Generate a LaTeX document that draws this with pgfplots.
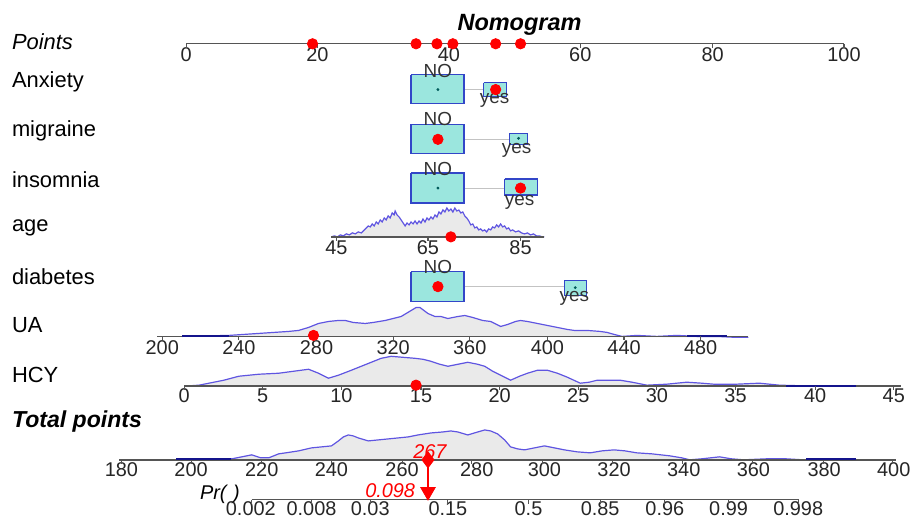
\documentclass[border=0pt]{standalone}
\usepackage{pgfplots}
\pgfplotsset{compat=1.18}
\usepackage{fontspec}
\setmainfont{Liberation Sans}
\definecolor{boxfill}{RGB}{155,230,222}
\definecolor{boxdraw}{RGB}{50,70,200}
\definecolor{densline}{RGB}{95,85,225}
\definecolor{densdark}{RGB}{20,20,140}
\definecolor{densfill}{RGB}{234,234,234}
\definecolor{axgray}{RGB}{85,85,85}
\definecolor{conngray}{RGB}{195,195,195}
\definecolor{ctr}{RGB}{0,90,90}
\tikzset{
  lbl/.style={anchor=west, font=\fontsize{11}{13}\selectfont},
  tl/.style={anchor=center, font=\fontsize{10}{12}\selectfont, text=black!85},
  sm/.style={anchor=center, font=\fontsize{9.5}{11}\selectfont, text=black!80},
}
\pgfplotsset{
  dens/.style={draw=densline, line width=0.6pt, fill=densfill},
  axl/.style={draw=axgray, line width=0.7pt},
  tk/.style={only marks, mark=|, mark size=1pt, mark options={draw=axgray, line width=0.6pt}},
  bx/.style={draw=boxdraw, fill=boxfill, line width=0.7pt},
  rd/.style={only marks, mark=*, mark size=2.6pt, mark options={draw=red, fill=red}},
  cd/.style={only marks, mark=*, mark size=0.5pt, mark options={draw=ctr, fill=ctr}},
}
\begin{document}
\begin{tikzpicture}
\begin{axis}[width=458.5pt, height=258.5pt, scale only axis,
  xmin=0, xmax=917, ymin=0, ymax=517, y dir=reverse,
  axis lines=none, clip=false]
% invisible frame to fix the picture size
\addplot[draw=none, forget plot] coordinates {(0,0)(917,0)(917,517)(0,517)};
% ---------- densities ----------
% age
\addplot[dens] coordinates {(333,238)(336,237)(339,238)(342,236)(345,237)(348,235)(351,236)(354,234)(357,235)(360,233)(363,234)(366,231)(368,229)(370,227)(372,228)(374,225)(376,227)(378,223)(380,225)(382,221)(384,223)(386,219)(388,221)(390,217)(392,219)(394,214)(396,216)(397,212)(399,216)(401,218)(403,221)(405,224)(407,227)(409,224)(411,226)(413,223)(415,225)(417,222)(419,225)(421,222)(423,224)(425,220)(427,223)(429,219)(431,221)(433,218)(435,220)(437,216)(439,218)(441,213)(443,215)(445,211)(447,213)(449,209)(451,212)(453,210)(455,213)(457,209)(459,212)(461,211)(463,214)(465,213)(467,217)(469,219)(471,222)(473,226)(475,225)(477,229)(479,228)(481,231)(483,230)(485,232)(487,231)(489,233)(491,230)(493,231)(495,228)(497,229)(499,226)(501,228)(503,225)(505,228)(507,227)(509,230)(511,229)(513,232)(515,231)(518,233)(521,232)(524,234)(527,235)(530,234)(533,236)(536,235)(539,237)(542,237)(545,238)(547,238)};
% UA
\addplot[dens] coordinates {(183,338)(230,337)(260,335)(290,333)(300,332)(310,329)(320,325)(330,323)(340,322)(347,322)(355,324)(367,325)(375,324)(387,322)(395,320)(403,318)(408,315)(413,312)(418,309)(422,309)(426,312)(430,315)(437,318)(443,318)(450,320)(460,318)(467,317)(475,319)(485,322)(493,323)(503,328)(510,326)(518,323)(523,322)(530,323)(540,325)(550,327)(560,329)(570,331)(577,332)(590,332)(603,333)(610,334)(617,336)(625,338)(640,337)(660,338)(680,337)(700,338)(720,338)(740,339)(752,339)};
% HCY
\addplot[dens] coordinates {(185,388)(200,387)(210,385)(225,382)(240,378)(260,376)(280,375)(295,373)(310,371)(320,375)(330,380)(340,377)(353,372)(368,366)(383,360)(393,358)(405,359)(417,360)(425,361)(433,363)(442,366)(450,368)(460,366)(470,364)(480,366)(487,368)(495,373)(505,378)(513,382)(522,378)(530,375)(540,372)(550,372)(560,375)(570,379)(583,385)(592,384)(600,382)(610,382)(623,382)(635,384)(650,387)(670,386)(690,384)(705,385)(717,386)(740,386)(763,385)(783,387)(820,388)(860,388)};
% Total points
\addplot[dens] coordinates {(177,462)(233,461)(243,459)(253,457)(262,460)(270,460)(280,456)(287,455)(300,453)(313,450)(323,449)(333,448)(340,443)(345,439)(350,437)(355,438)(360,440)(370,443)(380,442)(390,441)(400,440)(410,439)(420,437)(433,435)(445,434)(453,433)(460,434)(470,437)(480,434)(487,432)(493,433)(500,436)(507,442)(513,449)(520,451)(527,452)(537,450)(547,448)(557,450)(567,452)(580,454)(593,455)(605,453)(617,452)(628,453)(640,455)(655,456)(673,458)(685,460)(693,462)(705,461)(723,459)(735,461)(747,462)(770,461)(790,461)(807,462)(860,462)};
% ---------- axis lines ----------
\addplot[axl] coordinates {(187,44)(848,44)};
\addplot[axl] coordinates {(333,238)(547,238)};
\addplot[axl] coordinates {(158,338)(752,338)};
\addplot[axl] coordinates {(185,388)(905,388)};
\addplot[axl] coordinates {(120,462)(900,462)};
\addplot[axl] coordinates {(253,502)(803,502)};
% dark baseline parts of densities
\addplot[draw=densdark, line width=1pt] coordinates {(183,337.5)(230,337.5)};
\addplot[draw=densdark, line width=1pt] coordinates {(177,461.5)(232,461.5)};
\addplot[draw=densdark, line width=1pt] coordinates {(690,337.5)(730,337.5)};
\addplot[draw=densdark, line width=1pt] coordinates {(790,387.5)(860,387.5)};
\addplot[draw=densdark, line width=1pt] coordinates {(810,461.5)(860,461.5)};
% ---------- ticks ----------
\addplot[tk] coordinates {(187,46)(319,46)(451,46)(583,46)(716,46)(848,46)};
\addplot[tk] coordinates {(338,240)(430,240)(523,240)};
\addplot[tk] coordinates {(163,340)(240,340)(318,340)(395,340)(472,340)(550,340)(627,340)(704,340)};
\addplot[tk] coordinates {(185,390)(264,390)(343,390)(423,390)(502,390)(581,390)(660,390)(739,390)(819,390)(898,390)};
\addplot[tk] coordinates {(122,464)(192,464)(263,464)(333,464)(404,464)(474,464)(545,464)(615,464)(686,464)(756,464)(827,464)(897,464)};
\addplot[tk] coordinates {(253,504)(313,504)(372,504)(450,504)(531,504)(603,504)(668,504)(732,504)(802,504)};
% ---------- boxes and connectors ----------
\addplot[draw=conngray, line width=0.6pt] coordinates {(466,90)(486,90)};
\addplot[draw=conngray, line width=0.6pt] coordinates {(466,140)(512,140)};
\addplot[draw=conngray, line width=0.6pt] coordinates {(466,189)(507,189)};
\addplot[draw=conngray, line width=0.6pt] coordinates {(466,288)(567,288)};
\addplot[bx] coordinates {(413,75)(466,75)(466,104)(413,104)(413,75)};
\addplot[bx] coordinates {(486,83)(509,83)(509,97)(486,97)(486,83)};
\addplot[bx] coordinates {(413,125)(466,125)(466,154)(413,154)(413,125)};
\addplot[bx] coordinates {(512,134)(530,134)(530,145)(512,145)(512,134)};
\addplot[bx] coordinates {(413,174)(466,174)(466,204)(413,204)(413,174)};
\addplot[bx] coordinates {(507,180)(540,180)(540,196)(507,196)(507,180)};
\addplot[bx] coordinates {(413,273)(466,273)(466,303)(413,303)(413,273)};
\addplot[bx] coordinates {(567,282)(589,282)(589,297)(567,297)(567,282)};
\addplot[cd] coordinates {(440,90)(521,139)(440,189)(578,289)};
% ---------- red markers ----------
\addplot[rd] coordinates {(314,44)(418,44)(439,44)(455,44)(498,44)(523,44)};
\addplot[rd] coordinates {(498,90)(440,140)(523,189)(453,238)(440,288)(315,337)(418,387)};
\addplot[draw=red, line width=0.8pt] coordinates {(430,462)(430,492)};
\addplot[only marks, mark=diamond*, mark size=4pt, mark options={draw=red, fill=red}] coordinates {(430,462)};
\addplot[only marks, mark=triangle*, mark size=4.2pt, mark options={draw=red, fill=red, rotate=180}] coordinates {(430,494)};
% ---------- text ----------
\node[anchor=center, font=\fontsize{11.8}{13}\selectfont\bfseries\itshape] at (axis cs:522,25) {Nomogram};
\node[lbl, font=\fontsize{11}{13}\selectfont\itshape] at (axis cs:5,42) {Points};
\node[lbl] at (axis cs:5,82) {Anxiety};
\node[lbl] at (axis cs:5,131) {migraine};
\node[lbl] at (axis cs:5,181) {insomnia};
\node[lbl] at (axis cs:5,229) {age};
\node[lbl] at (axis cs:5,278) {diabetes};
\node[lbl] at (axis cs:5,327) {UA};
\node[lbl] at (axis cs:5,377) {HCY};
\node[lbl, font=\fontsize{11.6}{13}\selectfont\bfseries\itshape] at (axis cs:5,424) {Total points};
\node[anchor=center, font=\fontsize{10}{12}\selectfont\itshape] at (axis cs:221,497) {Pr(\,\,)};
% points labels
\node[tl] at (axis cs:187,55) {0};
\node[tl] at (axis cs:319,55) {20};
\node[tl] at (axis cs:451,55) {40};
\node[tl] at (axis cs:583,55) {60};
\node[tl] at (axis cs:716,55) {80};
\node[tl] at (axis cs:848,55) {100};
% NO / yes
\node[sm] at (axis cs:440,71) {NO};
\node[sm] at (axis cs:497,101) {yes};
\node[sm] at (axis cs:440,120) {NO};
\node[sm] at (axis cs:519,151) {yes};
\node[sm] at (axis cs:440,170) {NO};
\node[sm] at (axis cs:522,203) {yes};
\node[sm] at (axis cs:440,268) {NO};
\node[sm] at (axis cs:577,300) {yes};
% age labels
\node[tl] at (axis cs:338,249) {45};
\node[tl] at (axis cs:430,249) {65};
\node[tl] at (axis cs:523,249) {85};
% UA labels
\node[tl] at (axis cs:163,349) {200};
\node[tl] at (axis cs:240,349) {240};
\node[tl] at (axis cs:318,349) {280};
\node[tl] at (axis cs:395,349) {320};
\node[tl] at (axis cs:472,349) {360};
\node[tl] at (axis cs:550,349) {400};
\node[tl] at (axis cs:627,349) {440};
\node[tl] at (axis cs:704,349) {480};
% HCY labels
\node[tl] at (axis cs:185,398) {0};
\node[tl] at (axis cs:264,398) {5};
\node[tl] at (axis cs:343,398) {10};
\node[tl] at (axis cs:423,398) {15};
\node[tl] at (axis cs:502,398) {20};
\node[tl] at (axis cs:581,398) {25};
\node[tl] at (axis cs:660,398) {30};
\node[tl] at (axis cs:739,398) {35};
\node[tl] at (axis cs:819,398) {40};
\node[tl] at (axis cs:898,398) {45};
% total labels
\node[tl] at (axis cs:122,472) {180};
\node[tl] at (axis cs:192,472) {200};
\node[tl] at (axis cs:263,472) {220};
\node[tl] at (axis cs:333,472) {240};
\node[tl] at (axis cs:404,472) {260};
\node[tl] at (axis cs:479,472) {280};
\node[tl] at (axis cs:547,472) {300};
\node[tl] at (axis cs:617,472) {320};
\node[tl] at (axis cs:687,472) {340};
\node[tl] at (axis cs:757,472) {360};
\node[tl] at (axis cs:828,472) {380};
\node[tl] at (axis cs:898,472) {400};
% Pr labels
\node[tl] at (axis cs:252,511) {0.002};
\node[tl] at (axis cs:313,511) {0.008};
\node[tl] at (axis cs:372,511) {0.03};
\node[tl] at (axis cs:450,511) {0.15};
\node[tl] at (axis cs:531,511) {0.5};
\node[tl] at (axis cs:603,511) {0.85};
\node[tl] at (axis cs:668,511) {0.96};
\node[tl] at (axis cs:732,511) {0.99};
\node[tl] at (axis cs:802,511) {0.998};
% red values
\node[anchor=center, text=red, font=\fontsize{10}{12}\selectfont\itshape] at (axis cs:432,454) {267};
\node[anchor=center, text=red, font=\fontsize{10}{12}\selectfont\itshape] at (axis cs:392,493) {0.098};
\end{axis}
\end{tikzpicture}
\end{document}
